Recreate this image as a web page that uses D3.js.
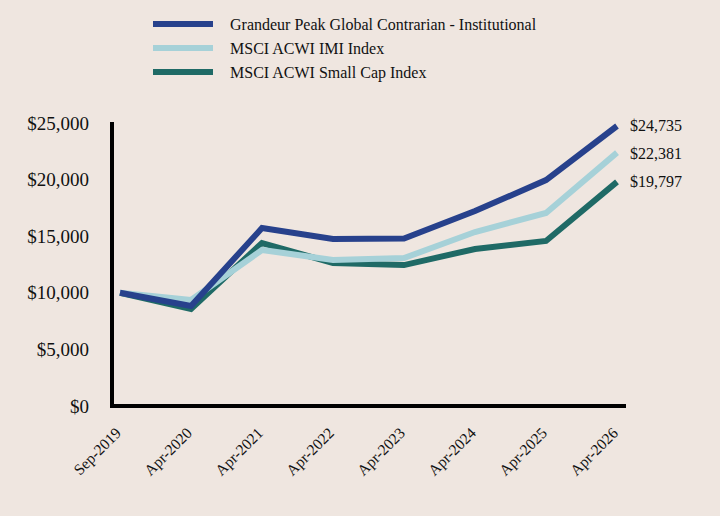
<html>
<head>
<style>
  body { margin: 0; background: #efe6e0; }
  text { font-family: "Liberation Serif", "Times New Roman", serif; fill: #111; }
</style>
</head>
<body>
<svg id="chart"></svg>
<script src="https://cdn.jsdelivr.net/npm/d3@7"></script>
<script>
let width = 720;
let height = 516;

// data
let dates = ["Sep-2019", "Apr-2020", "Apr-2021", "Apr-2022", "Apr-2023", "Apr-2024", "Apr-2025", "Apr-2026"];
let grandeur = [10000, 8830, 15720, 14750, 14800, 17220, 19960, 24735];
let acwiImi = [10000, 9360, 13780, 12900, 13070, 15370, 17050, 22381];
let acwiSmall = [10000, 8570, 14400, 12630, 12450, 13870, 14580, 19797];
let yTicks = [0, 5000, 10000, 15000, 20000, 25000];

let series = [
    {name: "Grandeur Peak Global Contrarian - Institutional", values: grandeur, color: "#27418c"},
    {name: "MSCI ACWI IMI Index", values: acwiImi, color: "#a6d1d8"},
    {name: "MSCI ACWI Small Cap Index", values: acwiSmall, color: "#1f6a66"}
];

let svg = d3.select("#chart")
            .attr("width", width)
            .attr("height", height)
            .style("background", "#efe6e0");

let x = d3.scalePoint()
            .domain(dates)
            .range([120, 617]);

let y = d3.scaleLinear()
            .domain([0, 25000])
            .range([406, 123]);

// y tick labels
svg.selectAll(".ylab")
    .data(yTicks)
    .enter()
    .append("text")
    .attr("x", 89)
    .attr("y", d => y(d))
    .attr("dy", "0.35em")
    .attr("text-anchor", "end")
    .style("font-size", "19px")
    .text(d => d3.format("$,")(d));

// x tick labels
svg.selectAll(".xlab")
    .data(dates)
    .enter()
    .append("text")
    .attr("text-anchor", "end")
    .attr("transform", d => `translate(${x(d) + 2}, 434) rotate(-45)`)
    .style("font-size", "15.5px")
    .text(d => d);

// lines
let line = d3.line()
            .x((d, i) => x(dates[i]))
            .y(d => y(d));

svg.selectAll(".series")
    .data(series.slice().reverse())
    .enter()
    .append("path")
    .attr("d", d => line(d.values))
    .attr("fill", "none")
    .attr("stroke", d => d.color)
    .attr("stroke-width", 6);

// axes
svg.append("line")
    .attr("x1", 112).attr("x2", 112)
    .attr("y1", 122).attr("y2", 406)
    .attr("stroke", "black").attr("stroke-width", 4);
svg.append("line")
    .attr("x1", 110).attr("x2", 626)
    .attr("y1", 406).attr("y2", 406)
    .attr("stroke", "black").attr("stroke-width", 4);

// end labels
let endY = [125, 153, 181];
svg.selectAll(".endlab")
    .data(series)
    .enter()
    .append("text")
    .attr("x", 630)
    .attr("y", (d, i) => endY[i])
    .attr("dy", "0.35em")
    .style("font-size", "16px")
    .text(d => d3.format("$,")(d.values[d.values.length - 1]));

// legend
let legend = svg.selectAll(".legend")
                .data(series)
                .enter()
                .append("g")
                .attr("transform", (d, i) => `translate(153, ${24 + i * 24})`);

legend.append("line")
    .attr("x1", 0).attr("x2", 60)
    .attr("stroke", d => d.color)
    .attr("stroke-width", 6);

legend.append("text")
    .attr("x", 77)
    .attr("dy", "0.35em")
    .style("font-size", "16px")
    .text(d => d.name);
</script>
</body>
</html>
